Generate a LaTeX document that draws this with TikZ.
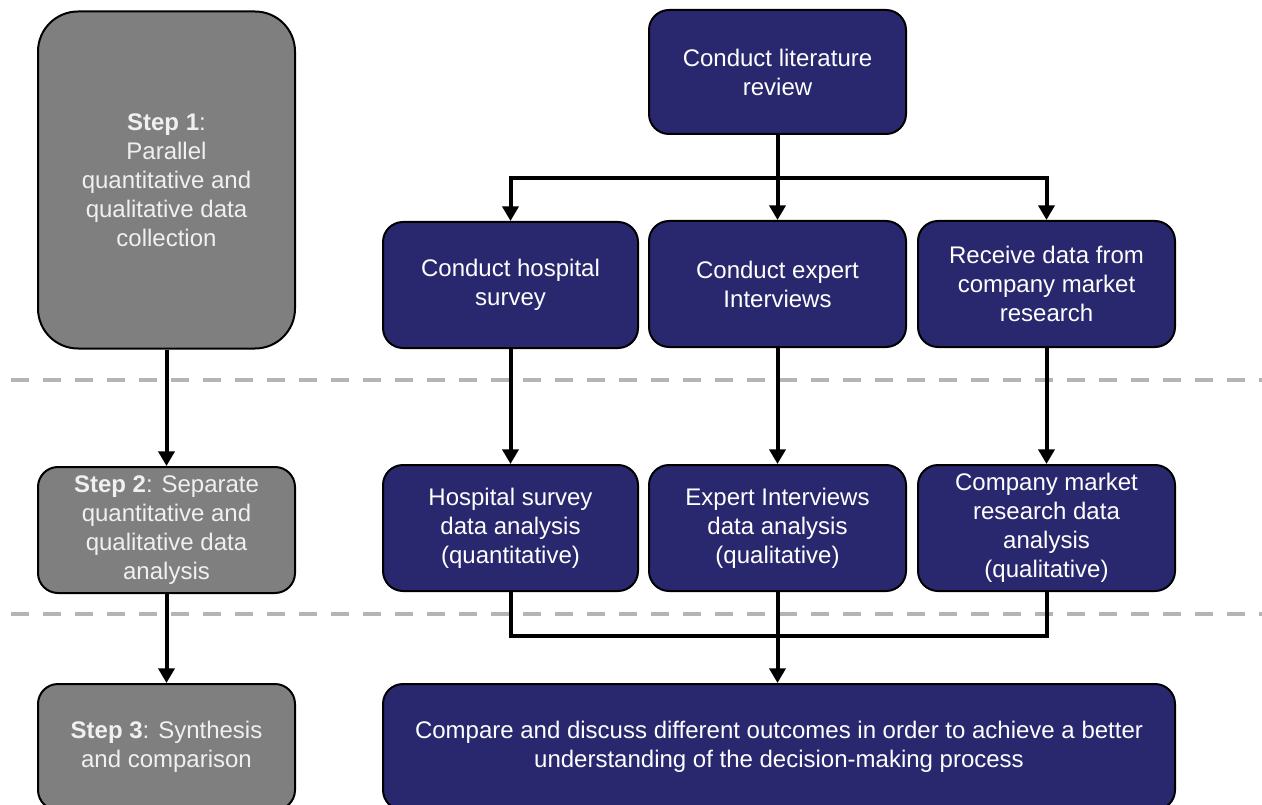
\documentclass[tikz,border=0pt]{standalone}
\usepackage{fontspec}
\setmainfont{Liberation Sans}
\usetikzlibrary{arrows.meta}
\definecolor{navy}{HTML}{29286F}
\definecolor{stepgray}{HTML}{7F7F7F}
\definecolor{dividergray}{HTML}{B4B4B4}
\begin{document}
\begin{tikzpicture}[x=0.75pt,y=-0.75pt,
  base/.style={draw=black, line width=1.5pt, inner sep=0pt, align=center,
    minimum width=192.75pt, minimum height=94.5pt,
    font=\fontsize{18}{21.75}\selectfont},
  task/.style={base, fill=navy, text=white, rounded corners=15pt},
  phase/.style={base, fill=stepgray, text=white!94!black, rounded corners=15pt},
  link/.style={line width=3pt, line join=miter},
  flow/.style={link, -{Triangle[width=12pt,length=11pt]}},
  divider/.style={draw=dividergray, line width=3pt, dash pattern=on 13.5pt off 10.5pt}]
\useasboundingbox (0,0) rectangle (1262,805);

% phase dividers
\draw[divider] (11,380) -- (1262,380);
\draw[divider] (11,614) -- (1262,614);

% left column: the three steps
\node[phase, rounded corners=30pt, minimum height=252.75pt] (s1) at (166.5,180)
  {\textbf{Step 1}:\\Parallel\\quantitative and\\qualitative data\\collection};
\node[phase] (s2) at (166.5,530)
  {\textbf{Step 2}: Separate\\quantitative and\\qualitative data\\analysis};
\node[phase] (s3) at (166.5,747)
  {\textbf{Step 3}: Synthesis\\and comparison};

% right column: tasks
\node[task, minimum height=93pt] (lit) at (777.5,72) {Conduct literature\\review};

\node[task, minimum width=191.25pt] (hosp) at (510.5,285) {Conduct hospital\\survey};
\node[task] (expi) at (777.5,284) {Conduct expert\\Interviews};
\node[task] (comp) at (1046.5,284) {Receive data from\\company market\\research};

\node[task, minimum width=191.25pt] (hana) at (510.5,528) {Hospital survey\\data analysis\\(quantitative)};
\node[task] (eana) at (777.5,528) {Expert Interviews\\data analysis\\(qualitative)};
\node[task] (cana) at (1046.5,528) {Company market\\research data\\analysis\\(qualitative)};

\node[task, minimum width=594pt] (synth) at (779,747)
  {Compare and discuss different outcomes in order to achieve a better\\understanding of the decision-making process};

% step connectors
\draw[flow] (s1.south) -- (s2.north);
\draw[flow] (s2.south) -- (s3.north);

% literature review fans out to the three collection tasks
\coordinate (split) at (777.5,178);
\draw[link] (lit.south) -- (split);
\draw[flow] (split) -| (hosp.north);
\draw[flow] (split) -- (expi.north);
\draw[flow] (split) -| (comp.north);

% collection to analysis
\draw[flow] (hosp.south) -- (hana.north);
\draw[flow] (expi.south) -- (eana.north);
\draw[flow] (comp.south) -- (cana.north);

% analyses merge into the synthesis
\coordinate (merge) at (777.5,636);
\draw[link] (hana.south) |- (merge) -| (cana.south);
\draw[flow] (eana.south) -- (eana.south |- synth.north);
\end{tikzpicture}
\end{document}
